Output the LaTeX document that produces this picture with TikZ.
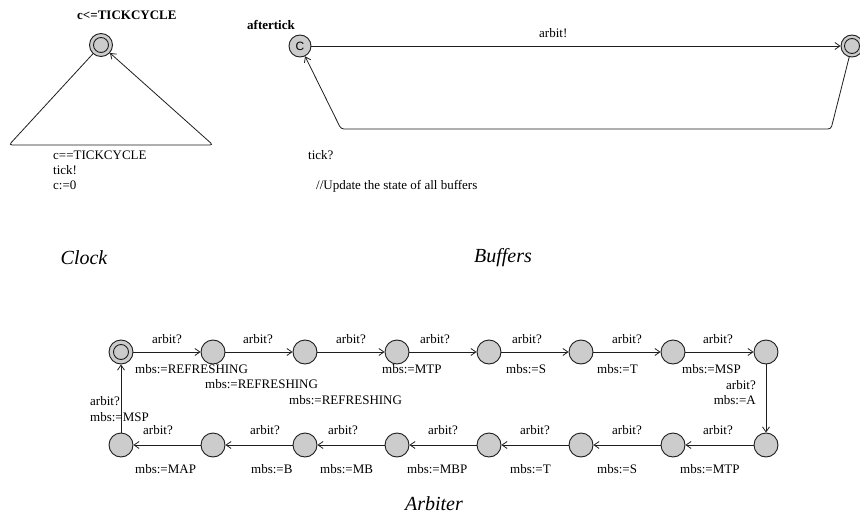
\documentclass[tikz,border=0pt]{standalone}
\usepackage{fontspec}
\setmainfont{Liberation Serif}
\newfontfamily\locfont{Liberation Sans}
\usetikzlibrary{arrows.meta}
\definecolor{locgray}{RGB}{204,204,204}
\definecolor{ink}{RGB}{30,30,30}
\begin{document}
\begin{tikzpicture}[x=1pt,y=-1pt,
  font=\fontsize{13}{15}\selectfont,
  loc/.style={circle,draw=ink,line width=0.9pt,fill=locgray,minimum size=23pt,inner sep=0pt},
  initloc/.style={loc,path picture={\draw[ink,line width=0.9pt] (path picture bounding box.center) circle (7.5pt);}},
  edge/.style={draw=ink,line width=0.8pt,-{Straight Barb[length=5pt,width=7pt]},rounded corners=3pt},
  lbl/.style={anchor=west,inner sep=0pt},
  bold/.style={lbl,font=\fontsize{13}{15}\selectfont\bfseries},
  title/.style={inner sep=0pt,font=\fontsize{20}{24}\selectfont\itshape},
]
\useasboundingbox (0,0) rectangle (860,519);
\fill[white] (0,0) rectangle (860,519);

% ---------- Clock ----------
\node[initloc] (clk) at (101,45) {};
\node[bold] (clkinv) at (77,15) {c<=TICKCYCLE};
\draw[edge] (clk) -- (9,145) -- (213,145) -- (clk);
\node[lbl] (clkg) at (53,155) {c==TICKCYCLE};
\node[lbl] (clks) at (53,170) {tick!};
\node[lbl] (clka) at (53,185) {c:=0};
\node[title] (clkname) at (84,258) {Clock};

% ---------- Buffers ----------
\node[loc,minimum size=22pt] (bc) at (300,46) {\locfont\fontsize{12}{14}\selectfont C};
\node[bold] (bcname) at (247,25) {aftertick};
\node[initloc,minimum size=22pt] (bi) at (852,46) {};
\draw[edge] (bc) -- (bi);
\node[lbl] (bsync) at (539,33) {arbit!};
\draw[edge] (bi) -- (831,129) -- (341,129) -- (bc);
\node[lbl] (bt) at (308,155) {tick?};
\node[lbl] (bu) at (316,186) {//Update the state of all buffers};
\node[title] (bufname) at (503,258) {Buffers};

% ---------- Arbiter ----------
\foreach \i/\x in {0/121,1/213,2/305,3/397,4/489,5/581,6/673,7/766}{
  \ifnum\i=0
    \node[initloc,minimum size=24pt] (t\i) at (\x,352) {};
  \else
    \node[loc,minimum size=24pt] (t\i) at (\x,352) {};
  \fi
  \node[loc,minimum size=24pt] (u\i) at (\x,445) {};
}
\foreach \i/\j in {0/1,1/2,2/3,3/4,4/5,5/6,6/7}{
  \draw[edge] (t\i) -- (t\j);
  \draw[edge] (u\j) -- (u\i);
}
\draw[edge] (t7) -- (u7);
\draw[edge] (u0) -- (t0);

% top row labels
\foreach \n/\x in {1/152,2/243,3/336,4/420,5/512,6/612,7/703}
  \node[lbl] (ts\n) at (\x,339) {arbit?};
\node[lbl] (ta1) at (135,369) {mbs:=REFRESHING};
\node[lbl] (ta2) at (205,384) {mbs:=REFRESHING};
\node[lbl] (ta3) at (289,400) {mbs:=REFRESHING};
\node[lbl] (ta4) at (382,369) {mbs:=MTP};
\node[lbl] (ta5) at (506,369) {mbs:=S};
\node[lbl] (ta6) at (597,369) {mbs:=T};
\node[lbl] (ta7) at (682,369) {mbs:=MSP};

% right side
\node[lbl,anchor=east] (rs) at (756,385) {arbit?};
\node[lbl,anchor=east] (ra) at (756,400) {mbs:=A};

% bottom row labels
\foreach \n/\x in {1/143,2/250,3/328,4/428,5/520,6/612,7/703}
  \node[lbl] (bs\n) at (\x,430) {arbit?};
\node[lbl] (ba1) at (135,469) {mbs:=MAP};
\node[lbl] (ba2) at (251,469) {mbs:=B};
\node[lbl] (ba3) at (320,469) {mbs:=MB};
\node[lbl] (ba4) at (407,469) {mbs:=MBP};
\node[lbl] (ba5) at (510,469) {mbs:=T};
\node[lbl] (ba6) at (597,469) {mbs:=S};
\node[lbl] (ba7) at (680,469) {mbs:=MTP};

% left side
\node[lbl] (ls) at (90,401) {arbit?};
\node[lbl] (la) at (90,417) {mbs:=MSP};

\node[title] (arbname) at (434,504) {Arbiter};
\end{tikzpicture}
\end{document}
